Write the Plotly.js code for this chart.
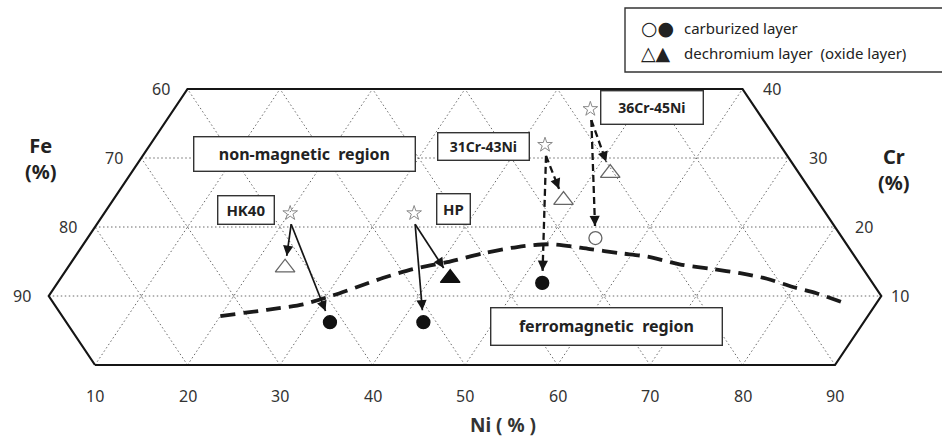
<!DOCTYPE html>
<html><head><meta charset="utf-8">
<script src="https://cdn.plot.ly/plotly-3.0.1.min.js"></script>
<style>html,body{margin:0;padding:0;background:#fff}</style>
</head><body><div id="chart" style="width:942px;height:441px"></div>
<script>
// ---- data (composition in %, Fe = 100 - Ni - Cr) ----
const alloyNames = ['HK40', 'HP', '31Cr-43Ni', '36Cr-45Ni'];
const alloyNi = [20.1, 33.5, 42.7, 45.0];
const alloyCr = [22.0, 22.0, 31.9, 37.1];
// carburized layer
const carbNi = [32.3, 42.4, 52.4, 54.9];
const carbCr = [6.2, 6.2, 11.9, 18.4];
const carbFilled = [true, true, true, false];
// dechromium layer (oxide layer)
const dechNi = [23.5, 42.1, 48.7, 51.8];
const dechCr = [14.1, 12.6, 23.9, 27.8];
const dechFilled = [false, true, false, false];
// magnetic / non-magnetic boundary
const boundaryNi = [20.0, 24.6, 28.1, 30.7, 32.7, 34.8, 37.4, 40.6, 43.9, 47.1, 50.4, 55.1, 58.7, 61.9, 65.9, 69.9, 73.1, 76.4, 79.8, 82.8, 86.2];
const boundaryCr = [7.1, 8.0, 8.8, 10.1, 11.3, 12.6, 13.9, 14.9, 16.2, 17.1, 17.5, 16.8, 16.2, 15.7, 14.6, 13.9, 13.3, 12.5, 11.3, 10.4, 9.1];
// tick labels
const niTicks = [10, 20, 30, 40, 50, 60, 70, 80, 90];
const feTicks = [60, 70, 80, 90];
const crTicks = [40, 30, 20, 10];
const gridLevels = [10, 20, 30, 40, 50, 60, 70, 80];
const arrowDashed = [false, false, true, true];

// ---- geometry (plot coords: x = Ni + Cr/2, y = Cr) ----
const W = 942, H = 441, PX0 = 2.5, SX = 9.25, PY0 = 365, SY = 6.9;
const xRange = [(0 - PX0) / SX, (W - PX0) / SX];
const yRange = [(PY0 - H) / SY, PY0 / SY];
const tx = (ni, cr) => ni + cr / 2;
const toPx = (x, y) => [PX0 + x * SX, PY0 - y * SY];
const fromPx = (px, py) => [(px - PX0) / SX, (PY0 - py) / SY];

const traces = [];
const annotations = [];
const shapes = [];

// grid
const gx = [], gy = [];
function seg(n1, c1, n2, c2) { gx.push(tx(n1, c1), tx(n2, c2), null); gy.push(c1, c2, null); }
[10, 20, 30].forEach(c => seg(Math.max(0, 10 - c), c, Math.min(90, 100 - c), c));
gridLevels.forEach(n => seg(n, Math.max(0, 10 - n), n, Math.min(40, 100 - n)));
gridLevels.forEach(f => { const s = 100 - f; const ct = Math.min(40, s); seg(s, 0, s - ct, ct); });
traces.push({x: gx, y: gy, mode: 'lines', line: {color: '#6a6a6a', width: 1, dash: '1.5px,2.5px'}, hoverinfo: 'skip'});

// outline
const outline = [[10, 0], [90, 0], [90, 10], [60, 40], [0, 40], [0, 10], [10, 0]];
traces.push({x: outline.map(p => tx(p[0], p[1])), y: outline.map(p => p[1]), mode: 'lines',
  line: {color: '#151515', width: 2.2}, hoverinfo: 'skip'});

// boundary curve
traces.push({x: boundaryNi.map((n, i) => tx(n, boundaryCr[i])), y: boundaryCr, mode: 'lines',
  line: {color: '#1a1a1a', width: 3.8, dash: '15px,8px', shape: 'spline', smoothing: 0.8}, hoverinfo: 'skip'});

// arrows
alloyNames.forEach((name, i) => {
  const s = toPx(tx(alloyNi[i], alloyCr[i]), alloyCr[i]);
  const start = [s[0] + 1, s[1] + 11];
  const targets = [[dechNi[i], dechCr[i]], [carbNi[i], carbCr[i]]];
  targets.forEach(t => {
    const tp = toPx(tx(t[0], t[1]), t[1]);
    const dx = tp[0] - start[0], dy = tp[1] - start[1];
    const L = Math.hypot(dx, dy);
    const ux = dx / L, uy = dy / L;
    const end = [tp[0] - ux * 12, tp[1] - uy * 12];
    const a = fromPx(start[0], start[1]), b = fromPx(end[0], end[1]);
    traces.push({x: [a[0], b[0]], y: [a[1], b[1]], mode: 'lines',
      line: {color: '#151515', width: arrowDashed[i] ? 2.3 : 1.7, dash: arrowDashed[i] ? '7px,4px' : 'solid'}, hoverinfo: 'skip'});
    annotations.push({x: b[0], y: b[1], xref: 'x', yref: 'y', ax: -ux * 9, ay: -uy * 9, text: '',
      showarrow: true, arrowhead: 2, arrowsize: 1.2, arrowwidth: 1.7, arrowcolor: '#151515'});
  });
});

// stars
traces.push({x: alloyNi.map((n, i) => tx(n, alloyCr[i])), y: alloyCr, mode: 'markers',
  marker: {symbol: 'star-open', size: 11, color: '#8a8a8a', line: {width: 1}}, hoverinfo: 'skip'});

function markerTrace(niArr, crArr, mask, want, symbol, color, size) {
  const xs = [], ys = [];
  niArr.forEach((n, i) => { if (mask[i] === want) { xs.push(tx(n, crArr[i])); ys.push(crArr[i]); } });
  return {x: xs, y: ys, mode: 'markers', marker: {symbol, size, color, line: {width: 1.3, color}}, hoverinfo: 'skip'};
}
traces.push(markerTrace(carbNi, carbCr, carbFilled, true, 'circle', '#111', 13));
traces.push(markerTrace(carbNi, carbCr, carbFilled, false, 'circle-open', '#666', 13));
traces.push(markerTrace(dechNi, dechCr, dechFilled, true, 'triangle-up', '#111', 17));
traces.push(markerTrace(dechNi, dechCr, dechFilled, false, 'triangle-up-open', '#666', 17));

// tick labels
const FAM = 'Noto Sans, DejaVu Sans, sans-serif';
const tickFont = {family: FAM, size: 16, color: '#333'};
niTicks.forEach(n => annotations.push({x: tx(n, 0), y: 0, xref: 'x', yref: 'y', text: String(n),
  showarrow: false, xanchor: 'center', yanchor: 'middle', yshift: -31, font: tickFont}));
feTicks.forEach(f => { const cr = 100 - f; annotations.push({x: tx(0, cr), y: cr, xref: 'x', yref: 'y',
  text: String(f), showarrow: false, xanchor: 'center', yanchor: 'middle', xshift: -27, font: tickFont}); });
crTicks.forEach(c => annotations.push({x: tx(100 - c, c), y: c, xref: 'x', yref: 'y', text: String(c),
  showarrow: false, xanchor: 'center', yanchor: 'middle', xshift: c > 10 ? 29 : 19, font: tickFont}));

// axis titles
const P = (px, py) => ({x: px / W, y: 1 - py / H, xref: 'paper', yref: 'paper', xanchor: 'center', yanchor: 'middle'});
const titleFont = {family: FAM, size: 20, color: '#222'};
annotations.push(Object.assign(P(41, 159), {text: '<b>Fe</b><br><b>(%)</b>', showarrow: false, font: titleFont}));
annotations.push(Object.assign(P(894, 169), {text: '<b>Cr</b><br><b>(%)</b>', showarrow: false, font: titleFont}));
annotations.push(Object.assign(P(503, 425), {text: '<b>Ni ( % )</b>', showarrow: false, font: {family: FAM, size: 19, color: '#333'}}));

// boxed labels
function box(cx, cy, w, h, text, size) {
  annotations.push(Object.assign(P(cx, cy), {text: '<b>' + text + '</b>', showarrow: false,
    width: w - 4, height: h - 4, borderpad: 1, bordercolor: '#333', borderwidth: 1.4, bgcolor: '#fff',
    font: {family: FAM, size: size, color: '#222'}}));
}
box(304, 154, 222, 35, 'non-magnetic\u00a0\u00a0region', 16);
box(245.5, 209.5, 57, 29, 'HK40', 15);
box(453, 208.5, 34, 31, 'HP', 15);
box(483, 147, 92, 28, '31Cr-43Ni', 14);
box(651.5, 107, 103, 34, '36Cr-45Ni', 14);
box(606, 326, 232, 38, 'ferromagnetic\u00a0\u00a0region', 16);

// legend box (open on the right: runs past the picture's edge)
shapes.push({type: 'path', xref: 'paper', yref: 'paper',
  path: 'M 1.05 ' + (1 - 8 / H) + ' L ' + (625 / W) + ' ' + (1 - 8 / H) + ' L ' + (625 / W) + ' ' + (1 - 72 / H) + ' L 1.05 ' + (1 - 72 / H),
  line: {color: '#333', width: 1.4}, layer: 'above'});
const legFont = {family: FAM, size: 15, color: '#222'};
const symFont = {family: 'DejaVu Sans, sans-serif', size: 19, color: '#222'};
annotations.push({x: 639 / W, y: 1 - 28 / H, xref: 'paper', yref: 'paper', xanchor: 'left', yanchor: 'middle',
  text: '○●', showarrow: false, font: symFont});
annotations.push({x: 639 / W, y: 1 - 53 / H, xref: 'paper', yref: 'paper', xanchor: 'left', yanchor: 'middle',
  text: '△▲', showarrow: false, font: symFont});
annotations.push({x: 682 / W, y: 1 - 28 / H, xref: 'paper', yref: 'paper', xanchor: 'left', yanchor: 'middle',
  text: 'carburized layer', showarrow: false, font: legFont});
annotations.push({x: 682 / W, y: 1 - 53 / H, xref: 'paper', yref: 'paper', xanchor: 'left', yanchor: 'middle',
  text: 'dechromium layer\u00a0\u00a0(oxide layer)', showarrow: false, font: legFont});

const layout = {
  width: W, height: H, margin: {l: 0, r: 0, t: 0, b: 0},
  paper_bgcolor: '#fff', plot_bgcolor: '#fff', showlegend: false,
  xaxis: {range: xRange, visible: false, fixedrange: true},
  yaxis: {range: yRange, visible: false, fixedrange: true},
  annotations: annotations, shapes: shapes
};
Plotly.newPlot('chart', traces, layout, {staticPlot: true, displayModeBar: false});
</script></body></html>
